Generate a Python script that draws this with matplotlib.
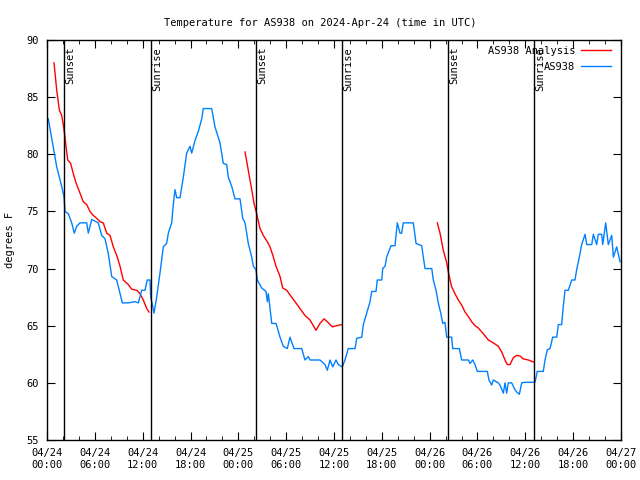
import numpy as np
import matplotlib
matplotlib.use("Agg")
import matplotlib.pyplot as plt
from matplotlib.ticker import MultipleLocator

# hours since 2024-04-24 00:00 UTC
obs_hours = [0.16, 1.22, 1.84, 2.13, 2.26, 2.67, 3.10, 3.42, 3.73, 4.14, 4.98, 5.18, 5.61, 6.43,
             6.86, 7.28, 7.69, 8.12, 8.74, 9.16, 9.45, 10.20, 11.04, 11.45, 11.88, 12.29, 12.58,
             12.92, 13.01, 13.26, 13.42, 13.76, 14.17, 14.59, 15.01, 15.22, 15.64, 15.84, 16.06,
             16.27, 16.68, 17.10, 17.52, 17.94, 18.15, 18.56, 18.98, 19.41, 19.61, 20.66, 21.07,
             21.70, 22.11, 22.54, 22.74, 23.17, 23.58, 24.21, 24.55, 24.84, 25.25, 25.68, 25.88,
             26.22, 26.38, 26.93, 27.47, 27.64, 27.76, 28.19, 28.73, 29.23, 29.64, 30.14, 30.48,
             30.98, 31.95, 32.36, 32.78, 32.99, 34.24, 34.87, 35.16, 35.50, 35.84, 36.25, 36.54,
             37.04, 37.38, 37.79, 38.64, 38.85, 39.48, 39.68, 40.10, 40.52, 40.73, 41.27, 41.43,
             41.99, 42.11, 42.40, 42.61, 43.15, 43.65, 43.94, 44.28, 44.49, 44.69, 45.95, 46.29,
             47.00, 47.20, 47.42, 48.26, 48.46, 48.80, 49.08, 49.39, 49.64, 49.92, 50.14, 50.76,
             50.89, 51.72, 52.02, 52.85, 53.06, 53.40, 53.69, 53.98, 55.23, 55.44, 55.78, 55.98,
             56.61, 56.82, 57.24, 57.45, 57.66, 57.86, 58.29, 58.70, 58.92, 59.24, 59.55, 59.96,
             61.21, 61.50, 62.25, 62.47, 62.76, 63.10, 63.43, 63.94, 64.14, 64.56, 64.76, 64.98,
             65.39, 65.82, 66.23, 66.44, 66.77, 67.07, 67.49, 67.70, 68.33, 68.53, 68.95, 69.15,
             69.58, 69.71, 70.08, 70.41, 70.84, 71.04, 71.46, 71.66, 71.88]
obs_temp = [83.1, 78.9, 77.2, 76.3, 75.0, 74.8, 74.0, 73.1, 73.7, 74.0, 74.0, 73.1, 74.3, 74.0,
            72.9, 72.6, 71.3, 69.3, 69.0, 67.8, 67.0, 67.0, 67.1, 67.0, 68.1, 68.1, 69.0,
            69.0, 67.5, 66.7, 66.1, 67.5, 69.6, 71.9, 72.2, 73.1, 74.0, 75.6, 76.9,
            76.2, 76.2, 78.0, 80.1, 80.7, 80.1, 81.2, 82.0, 83.1, 84.0, 84.0, 82.4,
            81.0, 79.2, 79.1, 78.0, 77.2, 76.1, 76.1, 74.4, 74.0, 72.2, 71.0, 70.2,
            69.9, 69.0, 68.3, 68.0, 67.1, 67.8, 65.2, 65.2, 64.0, 63.2, 63.0, 64.0,
            63.0, 63.0, 62.0, 62.3, 62.0, 62.0, 61.6, 61.1, 62.0, 61.4, 62.0, 61.6,
            61.4, 62.0, 63.0, 63.0, 63.9, 64.0, 65.1, 66.1, 67.1, 68.0, 68.0, 69.0,
            69.0, 70.0, 70.2, 71.0, 72.0, 72.0, 74.0, 73.1, 73.1, 74.0, 74.0, 72.2,
            72.0, 71.0, 70.0, 70.0, 69.0, 68.1, 67.0, 66.1, 65.2, 65.3, 64.0, 64.0,
            63.0, 63.0, 62.0, 62.0, 61.7, 62.0, 61.6, 61.0, 61.0, 60.25, 59.8, 60.25,
            60.0, 59.8, 59.1, 60.0, 59.1, 60.0, 60.0, 59.4, 59.2, 59.0, 60.0, 60.05,
            60.05, 61.0, 61.0, 62.0, 62.9, 63.0, 64.0, 64.0, 65.1, 65.1, 66.7, 68.1,
            68.1, 69.0, 69.0, 69.9, 71.0, 72.1, 73.0, 72.1, 72.1, 73.0, 72.1, 73.0,
            73.0, 72.1, 74.0, 72.1, 72.9, 71.0, 71.9, 71.3, 70.6]

# analysis, three nightly pieces separated by gaps (nan)
ana_hours = [0.88, 1.22, 1.54, 1.84, 2.04, 2.26, 2.38, 2.60, 2.97, 3.30, 3.64, 4.14, 4.55, 4.98,
             5.39, 5.73, 6.23, 6.65, 7.06, 7.49, 7.90, 8.32, 8.82, 9.16, 9.57, 10.20, 10.62,
             11.25, 11.67, 12.08, 12.51, 12.79, 18.0,
             24.84, 25.25, 25.68, 25.97, 26.30, 26.72, 27.13, 27.63, 27.97, 28.31, 28.73, 29.23,
             29.57, 30.07, 30.48, 31.11, 31.74, 32.36, 32.99, 33.74, 34.24, 34.75, 35.16, 35.79,
             36.34, 36.97, 42.0,
             48.96, 49.30, 49.71, 50.14, 50.34, 50.76, 51.18, 51.59, 52.02, 52.43, 52.85, 53.27,
             53.69, 54.10, 54.73, 55.36, 55.98, 56.61, 57.04, 57.45, 57.74, 58.08, 58.49, 58.92,
             59.33, 59.74, 60.37, 61.13]
ana_temp = [88.0, 85.6, 83.9, 83.4, 82.6, 81.5, 80.7, 79.5, 79.2, 78.3, 77.5, 76.6, 75.85, 75.6,
            75.0, 74.7, 74.4, 74.1, 74.0, 73.1, 72.9, 71.9, 71.0, 70.2, 69.0, 68.6, 68.2,
            68.1, 67.8, 67.25, 66.5, 66.2, np.nan,
            80.2, 78.6, 76.9, 75.7, 74.8, 73.5, 72.9, 72.35, 71.9, 71.2, 70.2, 69.3,
            68.3, 68.1, 67.7, 67.1, 66.5, 65.9, 65.5, 64.6, 65.2, 65.6, 65.35, 64.9,
            65.0, 65.1, np.nan,
            74.0, 73.1, 71.6, 70.5, 69.7, 68.4, 67.8, 67.25, 66.8, 66.2, 65.8, 65.35,
            65.0, 64.8, 64.3, 63.75, 63.5, 63.2, 62.7, 62.0, 61.6, 61.6, 62.2, 62.4,
            62.35, 62.1, 62.0, 61.8]

sun_hours = [2.13, 13.05, 26.2, 37.0, 50.3, 61.1]
sun_labels = ["Sunset", "Sunrise", "Sunset", "Sunrise", "Sunset", "Sunrise"]

tick_hours = list(range(0, 73, 6))
tick_labels = ["04/24\n00:00", "04/24\n06:00", "04/24\n12:00", "04/24\n18:00",
               "04/25\n00:00", "04/25\n06:00", "04/25\n12:00", "04/25\n18:00",
               "04/26\n00:00", "04/26\n06:00", "04/26\n12:00", "04/26\n18:00",
               "04/27\n00:00"]

plt.rcParams['font.family'] = 'DejaVu Sans Mono'
plt.rcParams['font.size'] = 7.5

fig = plt.figure(figsize=(6.4, 4.8), dpi=100)
ax = fig.add_axes([47/640, 40/480, 574/640, 400/480])

ax.plot(ana_hours, ana_temp, color='#ff0000', lw=1, label='AS938 Analysis')
ax.plot(obs_hours, obs_temp, color='#0080ff', lw=1, label='AS938')

for h, lab in zip(sun_hours, sun_labels):
    ax.axvline(h, color='black', lw=1)
    ax.text(h + 0.15, 89.4, lab, rotation=90, ha='left', va='top', fontsize=7.5)

ax.set_xlim(0, 72)
ax.set_ylim(55, 90)
ax.set_xticks(tick_hours)
ax.set_xticklabels(tick_labels)
ax.xaxis.set_minor_locator(MultipleLocator(2))
ax.set_yticks(range(55, 91, 5))
ax.tick_params(which='both', direction='in', top=True, right=True, pad=6)
ax.tick_params(which='major', length=6)
ax.tick_params(which='minor', length=3)
for s in ax.spines.values():
    s.set_linewidth(1)

ax.set_ylabel('degrees F', labelpad=8)
fig.suptitle('Temperature for AS938 on 2024-Apr-24 (time in UTC)', y=0.962, fontsize=7.5)

# legend: text right-aligned, line sample after it
ax.legend(loc='upper right', bbox_to_anchor=(1.0, 1.012), frameon=False, markerfirst=False,
          handlelength=2.8, borderaxespad=0.6, labelspacing=0.6, handletextpad=0.6)

fig.savefig('out.png', dpi=100)
